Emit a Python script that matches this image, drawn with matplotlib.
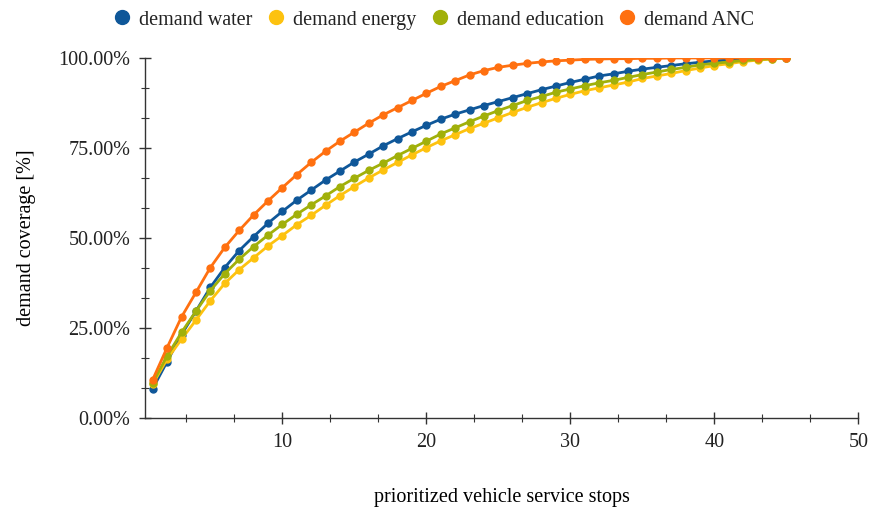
import numpy as np
import matplotlib
matplotlib.use("Agg")
import matplotlib.pyplot as plt
from matplotlib.ticker import MultipleLocator, PercentFormatter

plt.rcParams['font.family'] = ['Liberation Serif', 'DejaVu Serif']
plt.rcParams['text.color'] = '#222222'

# Haltestellen (priorisiert) 1..45
stops = list(range(1, 46))

water = [8.2, 15.7, 23.2, 29.7, 36.3, 41.8, 46.5, 50.4, 54.1, 57.4,
         60.5, 63.3, 66.1, 68.6, 71.1, 73.3, 75.6, 77.6, 79.5, 81.3,
         83.0, 84.4, 85.6, 86.8, 87.9, 89.0, 90.1, 91.2, 92.2, 93.2,
         94.1, 95.0, 95.6, 96.3, 96.9, 97.4, 97.9, 98.4, 98.8, 99.2,
         99.4, 99.6, 99.8, 100.0, 100.0]
energy = [9.4, 16.4, 21.9, 27.2, 32.6, 37.4, 41.2, 44.5, 47.8, 50.7,
          53.7, 56.3, 59.1, 61.8, 64.3, 66.7, 68.9, 71.0, 73.1, 75.1,
          77.0, 78.7, 80.4, 81.9, 83.4, 84.9, 86.3, 87.6, 88.8, 89.9,
          90.9, 91.7, 92.5, 93.3, 94.3, 95.0, 95.7, 96.5, 97.2, 97.9,
          98.4, 99.0, 99.4, 99.7, 100.0]
education = [9.8, 17.3, 23.8, 29.7, 35.4, 40.1, 44.1, 47.6, 50.8, 53.8,
             56.6, 59.2, 61.7, 64.3, 66.6, 68.8, 70.8, 72.9, 74.9, 76.9,
             78.9, 80.6, 82.3, 83.9, 85.4, 86.8, 88.2, 89.3, 90.5, 91.4,
             92.3, 93.1, 93.8, 94.6, 95.4, 96.1, 96.8, 97.4, 98.1, 98.5,
             98.9, 99.3, 99.6, 99.8, 100.0]
anc = [10.7, 19.6, 28.1, 34.9, 41.8, 47.4, 52.1, 56.4, 60.3, 64.0,
       67.6, 71.0, 74.1, 76.9, 79.4, 81.9, 84.2, 86.2, 88.2, 90.2,
       92.1, 93.7, 95.3, 96.5, 97.4, 98.0, 98.5, 98.9, 99.2, 99.4,
       99.6, 99.7, 99.8, 99.8, 99.9, 99.9, 100.0, 100.0, 100.0, 100.0,
       100.0, 100.0, 100.0, 100.0, 100.0]

labels = ['demand water', 'demand energy', 'demand education', 'demand ANC']
colors = ['#0f5799', '#fdc20f', '#a1b00a', '#ff7010']

fig = plt.figure(figsize=(8.69, 5.13), dpi=100)
ax = fig.add_axes([0.1669, 0.185, 0.821, 0.702])

for ys, lab, col in zip([water, energy, education, anc], labels, colors):
    ax.plot(stops, np.array(ys) / 100, color=col, lw=2, marker='o',
            markersize=5, label=lab)

ax.set_xlim(0.465, 50)
ax.set_ylim(0, 1)
ax.xaxis.set_major_locator(MultipleLocator(10))
ax.xaxis.set_minor_locator(MultipleLocator(10 / 3))
ax.yaxis.set_major_locator(MultipleLocator(0.25))
ax.yaxis.set_minor_locator(MultipleLocator(0.25 / 3))
ax.yaxis.set_major_formatter(PercentFormatter(1.0, decimals=2))

for s in ['top', 'right']:
    ax.spines[s].set_visible(False)
for s in ['left', 'bottom']:
    ax.spines[s].set_color('#333333')
    ax.spines[s].set_linewidth(1.0)

ax.tick_params(which='major', direction='inout', length=9, width=1,
               color='#333333', labelsize=14.5, labelcolor='#222222', pad=6)
ax.tick_params(which='minor', direction='inout', length=6, width=0.8,
               color='#333333')

ax.set_xlabel('prioritized vehicle service stops', fontsize=14.5, labelpad=26)
ax.set_ylabel('demand coverage [%]', fontsize=14.5, labelpad=16)

# Legende oben, nur Marker
handles = [plt.Line2D([], [], ls='none', marker='o', markersize=10,
                      color=c) for c in colors]
fig.legend(handles, labels, loc='upper center', ncol=4, frameon=False,
           bbox_to_anchor=(0.4985, 1.015), fontsize=14.5, handlelength=1.0,
           handletextpad=0.37, columnspacing=0.64)

fig.savefig('out.png', dpi=100)
